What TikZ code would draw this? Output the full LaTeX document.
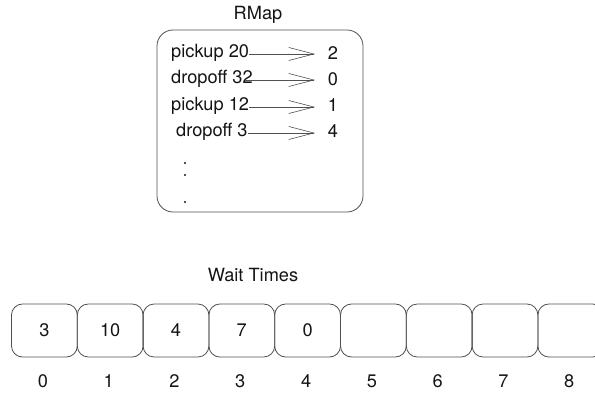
\documentclass[tikz,border=0pt]{standalone}
\usepackage{fontspec}
\setmainfont{TeX Gyre Heros}
\usetikzlibrary{arrows.meta}
\definecolor{edgegray}{RGB}{80,80,80}
\definecolor{inkgray}{RGB}{20,20,20}
\tikzset{
  lbl/.style={inner sep=0pt, text=inkgray, font=\fontsize{18.2}{21}\selectfont},
  mapbox/.style={draw=edgegray, line width=0.8pt, rounded corners=16pt,
    minimum width=206pt, minimum height=182pt, inner sep=0pt},
  cell/.style={draw=edgegray, line width=0.8pt, rounded corners=11pt,
    minimum width=65.8pt, minimum height=53pt, inner sep=0pt,
    text=inkgray, font=\fontsize{18.2}{21}\selectfont},
  maparrow/.style={draw=edgegray, line width=0.6pt,
    -{Straight Barb[length=25pt,width=13pt,line width=0.6pt]}},
  dot/.style={circle, fill=inkgray, inner sep=0pt, minimum size=2.2pt}
}
\begin{document}
\begin{tikzpicture}[x=1pt,y=1pt]
  \useasboundingbox (0,0) rectangle (595,394);
  \clip (0,0) rectangle (595,394);

  % RMap: a table from requests to slots
  \node[lbl] (rtitle) at (258,379) {RMap};
  \node[mapbox] (rmap) at (260,273) {};

  \node[lbl, anchor=west] (k1) at (171,341) {pickup 20};
  \node[lbl, anchor=west] (k2) at (171,315) {dropoff 32};
  \node[lbl, anchor=west] (k3) at (171,288) {pickup 12};
  \node[lbl, anchor=west] (k4) at (176,262) {dropoff 3};

  \node[lbl] (v1) at (333,341) {2};
  \node[lbl] (v2) at (333,315) {0};
  \node[lbl] (v3) at (333,289) {1};
  \node[lbl] (v4) at (333,263) {4};

  \coordinate (t1) at (315,340);
  \coordinate (t2) at (315,314);
  \coordinate (t3) at (315,287);
  \coordinate (t4) at (315,261);

  \draw[maparrow] (k1.east |- t1) -- (t1);
  \draw[maparrow] ([xshift=-8pt]k2.east |- t2) -- (t2);
  \draw[maparrow] (k3.east |- t3) -- (t3);
  \draw[maparrow] (k4.east |- t4) -- (t4);

  \node[dot] (d1) at (185,231) {};
  \node[dot] (d2) at (185,219) {};
  \node[dot] (d3) at (185,192) {};

  % Wait Times array
  \node[lbl] (wtitle) at (253,119) {Wait Times};
  \foreach \i/\v in {0/3,1/10,2/4,3/7,4/0,5/,6/,7/,8/} {
    \node[cell] (w\i) at ({11.5+65.8*(\i+0.5)},63.5) {\v};
    \node[lbl] (n\i) at ({10+65.8*(\i+0.5)},12.5) {\i};
  }
\end{tikzpicture}
\end{document}
